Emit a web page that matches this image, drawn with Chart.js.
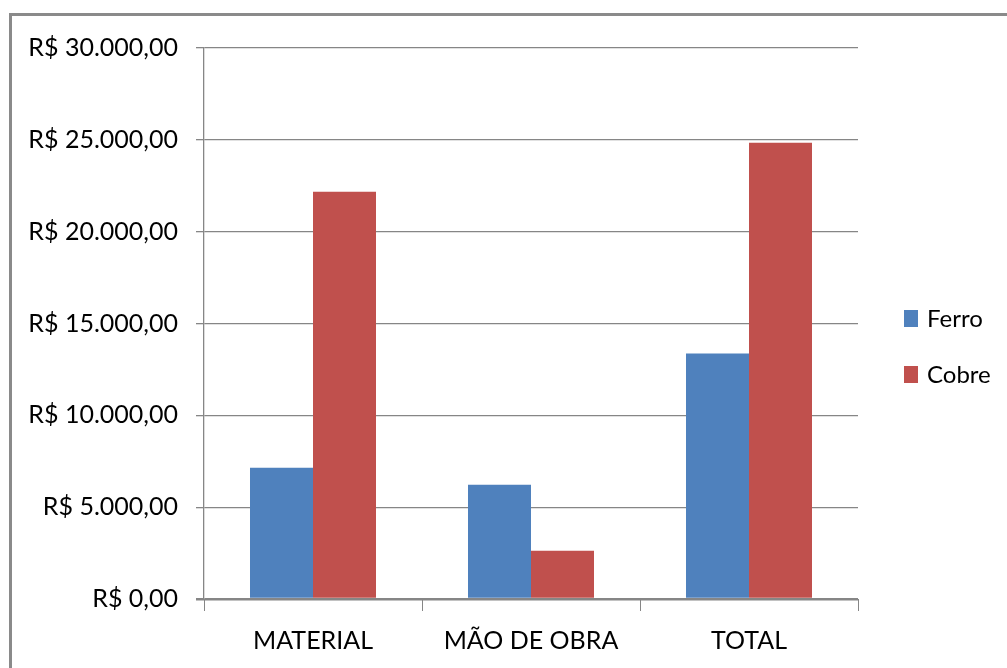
<!DOCTYPE html>
<html lang="pt-BR">
<head>
<meta charset="utf-8">
<title>Custo: Ferro x Cobre</title>
<script src="https://cdn.jsdelivr.net/npm/chart.js@4/dist/chart.umd.min.js"></script>
<style>
  html, body { margin: 0; padding: 0; background: #ffffff; }
  body { width: 1007px; height: 668px; position: relative; overflow: hidden; }
  #frame {
    position: absolute; left: 9px; top: 13px; right: 0; bottom: -10px;
    border-left: 3px solid #8a8a8a; border-top: 3px solid #8a8a8a;
  }
  #wrap { position: absolute; left: 0; top: 0; width: 1007px; height: 668px; }
</style>
</head>
<body>
<div id="frame"></div>
<div id="wrap"><canvas id="chart" width="1007" height="668"></canvas></div>
<script>
// Categorias e valores (R$)
const categories = ['MATERIAL', 'MÃO DE OBRA', 'TOTAL'];
const ferro = [7150, 6220, 13360];
const cobre = [22170, 2630, 24840];
const seriesNames = ['Ferro', 'Cobre'];
const seriesColors = ['#4F81BD', '#C0504D'];
const yTicks = [0, 5000, 10000, 15000, 20000, 25000, 30000];

const FONT = 'Lato, "Open Sans", "Liberation Sans", sans-serif';

function brl(v) {
  const parts = Math.abs(v).toFixed(2).split('.');
  const inteiro = parts[0].replace(/\B(?=(\d{3})+(?!\d))/g, '.');
  return 'R$ ' + inteiro + ',' + parts[1];
}

// Legenda desenhada à direita da área do gráfico
const sideLegend = {
  id: 'sideLegend',
  afterDraw(chart) {
    const ctx = chart.ctx;
    ctx.save();
    ctx.font = '24px ' + FONT;
    ctx.textBaseline = 'middle';
    ctx.textAlign = 'left';
    chart.data.datasets.forEach((ds, i) => {
      const cy = 318 + i * 56;
      ctx.fillStyle = ds.backgroundColor;
      ctx.fillRect(904, cy - 8, 14, 17);
      ctx.fillStyle = '#000000';
      ctx.fillText(ds.label, 927, cy + 1);
    });
    ctx.restore();
  }
};

new Chart(document.getElementById('chart'), {
  type: 'bar',
  data: {
    labels: categories,
    datasets: [
      { label: seriesNames[0], data: ferro, backgroundColor: seriesColors[0] },
      { label: seriesNames[1], data: cobre, backgroundColor: seriesColors[1] }
    ]
  },
  plugins: [sideLegend],
  options: {
    responsive: false,
    animation: false,
    devicePixelRatio: 1,
    layout: { padding: { left: 0, top: 48, right: 149, bottom: 0 } },
    datasets: { bar: { categoryPercentage: 0.578, barPercentage: 1.0 } },
    plugins: { legend: { display: false }, tooltip: { enabled: false } },
    scales: {
      x: {
        grid: {
          offset: true,
          drawOnChartArea: false,
          drawTicks: true,
          tickLength: 12,
          color: '#868686',
          lineWidth: 1
        },
        border: { display: false },
        ticks: {
          color: '#000000',
          font: { family: FONT, size: 25 },
          padding: 15,
          maxRotation: 0
        },
        afterFit(scale) { scale.height = 69; }
      },
      y: {
        min: 0,
        max: 30000,
        afterBuildTicks(scale) { scale.ticks = yTicks.map(v => ({ value: v })); },
        grid: {
          color: '#868686',
          lineWidth: ctx => (ctx.tick && ctx.tick.value === 0 ? 2.5 : 1.3),
          drawTicks: true,
          tickLength: 8
        },
        border: { display: true, color: '#868686', width: 1.3 },
        ticks: {
          color: '#000000',
          font: { family: FONT, size: 25 },
          padding: 18,
          callback: v => brl(v)
        },
        afterFit(scale) { scale.width = 204; }
      }
    }
  }
});
</script>
</body>
</html>
